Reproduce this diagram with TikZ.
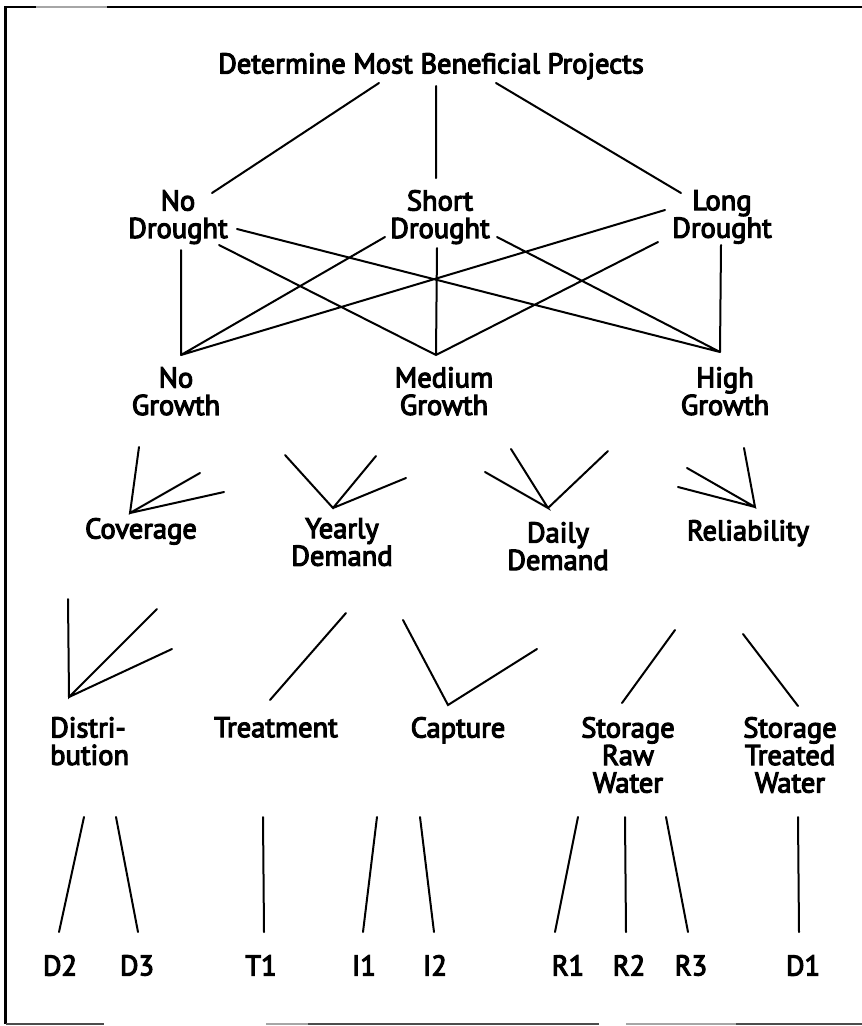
\documentclass[tikz,border=0pt]{standalone}
\usepackage{fontspec}
\setmainfont{PT Sans}[RawFeature={embolden=4}]
\begin{document}
\begin{tikzpicture}[x=1pt,y=-1pt,
  lbl/.style={inner sep=0pt, anchor=north, align=center, font=\fontsize{28.5}{27.5}\selectfont},
  conn/.style={line width=2pt, line cap=round},
  frame/.style={line width=2.7pt},
  faint/.style={line width=1.5pt, black!35}]
\useasboundingbox (0,0) rectangle (862,1026);
% frame
\coordinate (fBL) at (5.5,1024);
\coordinate (fTL) at (5.5,7);
\coordinate (fT1) at (36,7);
\coordinate (fT2) at (107,7);
\coordinate (fTR) at (862,7);
\draw[frame] (fBL) -- (fTL) -- (fT1);
\draw[faint] (fT1) -- (fT2);
\draw[frame] (fT2) -- (fTR);
\coordinate (fB1) at (104,1024); \coordinate (fB2) at (266,1024);
\coordinate (fB3) at (308,1024); \coordinate (fB4) at (599,1024);
\coordinate (fB5) at (626,1024); \coordinate (fB6) at (736,1024);
\coordinate (fBR) at (862,1024);
\draw[line width=2pt, black!70] (fBL) -- (fB1) (fB3) -- (fB4) (fB6) -- (fBR);
\draw[faint] (fB2) -- (fB3) (fB5) -- (fB6);

% text nodes
\node[lbl] (top) at (431,53) {Determine Most Beneficial Projects};
\node[lbl] (nd) at (178,190) {No\\Drought};
\node[lbl] (sd) at (440,190) {Short\\Drought};
\node[lbl] (ld) at (722,190) {Long\\Drought};
\node[lbl] (ng) at (176,367) {No\\Growth};
\node[lbl] (mg) at (444,367) {Medium\\Growth};
\node[lbl] (hg) at (725,367) {High\\Growth};
\node[lbl] (cov) at (141,518) {Coverage};
\node[lbl] (yd) at (342,518) {Yearly\\Demand};
\node[lbl] (dd) at (558,522) {Daily\\Demand};
\node[lbl] (rel) at (748,520) {Reliability};
\node[lbl, anchor=north west, align=left] (dist) at (50,717) {Distri-\\bution};
\node[lbl] (trt) at (276,717) {Treatment};
\node[lbl] (cap) at (458,717) {Capture};
\node[lbl] (srw) at (628,717) {Storage\\Raw\\Water};
\node[lbl] (stw) at (790,717) {Storage\\Treated\\Water};
\foreach \n/\x in {D2/60,D3/137,T1/261,I1/364,I2/435,R1/568,R2/629,R3/691,D1/803}
  \node[lbl] (b\n) at (\x,955) {\n};

% coordinates: top level
\coordinate (t1a) at (379,83);  \coordinate (t1b) at (212,193);
\coordinate (t2a) at (436,86);  \coordinate (t2b) at (436,178);
\coordinate (t3a) at (496,83);  \coordinate (t3b) at (681,193);
\draw[conn] (t1a) -- (t1b) (t2a) -- (t2b) (t3a) -- (t3b);

% drought -> growth
\coordinate (gNo) at (181,355);
\coordinate (gMed) at (436,355);
\coordinate (gHigh) at (720,352);
\coordinate (nd1) at (181,250); \coordinate (nd2) at (219,245); \coordinate (nd3) at (237,229);
\coordinate (sd1) at (385,237); \coordinate (sd2) at (437,248); \coordinate (sd3) at (497,237);
\coordinate (ld1) at (665,210); \coordinate (ld2) at (658,242); \coordinate (ld3) at (721,245);
\draw[conn] (nd1) -- (gNo) (nd2) -- (gMed) (nd3) -- (gHigh)
            (sd1) -- (gNo) (sd2) -- (gMed) (sd3) -- (gHigh)
            (ld1) -- (gNo) (ld2) -- (gMed) (ld3) -- (gHigh);

% criteria fans
\coordinate (covA) at (130,513);
\coordinate (cov1) at (139,447); \coordinate (cov2) at (200,473); \coordinate (cov3) at (224,492);
\coordinate (ydA) at (333,508);
\coordinate (yd1) at (285,455); \coordinate (yd2) at (376,456); \coordinate (yd3) at (406,478);
\coordinate (ddA) at (548,508);
\coordinate (dd1) at (485,472); \coordinate (dd2) at (511,449); \coordinate (dd3) at (608,451);
\coordinate (relA) at (755,507);
\coordinate (rel1) at (744,448); \coordinate (rel2) at (687,468); \coordinate (rel3) at (678,487);
\foreach \f in {cov,yd,dd,rel}
  \draw[conn] (\f1) -- (\f A) -- (\f2) (\f A) -- (\f3);

% component fans
\coordinate (distA) at (69,697);
\coordinate (dist1) at (68,599); \coordinate (dist2) at (157,609); \coordinate (dist3) at (172,649);
\draw[conn] (dist1) -- (distA) -- (dist2) (distA) -- (dist3);
\coordinate (trt1) at (346,613); \coordinate (trtA) at (270,700);
\draw[conn] (trt1) -- (trtA);
\coordinate (capA) at (448,705);
\coordinate (cap1) at (403,620); \coordinate (cap2) at (537,649);
\draw[conn] (cap1) -- (capA) -- (cap2);
\coordinate (srw1) at (675,630); \coordinate (srwA) at (622,703);
\draw[conn] (srw1) -- (srwA);
\coordinate (stw1) at (743,634); \coordinate (stwA) at (798,706);
\draw[conn] (stw1) -- (stwA);

% project lines
\foreach \n/\xa/\xb in {D2/84/59,D3/116/138,T1/263/264,I1/377/363,I2/420/434,R1/578/555,R2/625/626,R3/666/688,D1/798/799}{
  \coordinate (p\n a) at (\xa,817);
  \coordinate (p\n b) at (\xb,932);
  \draw[conn] (p\n a) -- (p\n b);
}
\end{tikzpicture}
\end{document}
